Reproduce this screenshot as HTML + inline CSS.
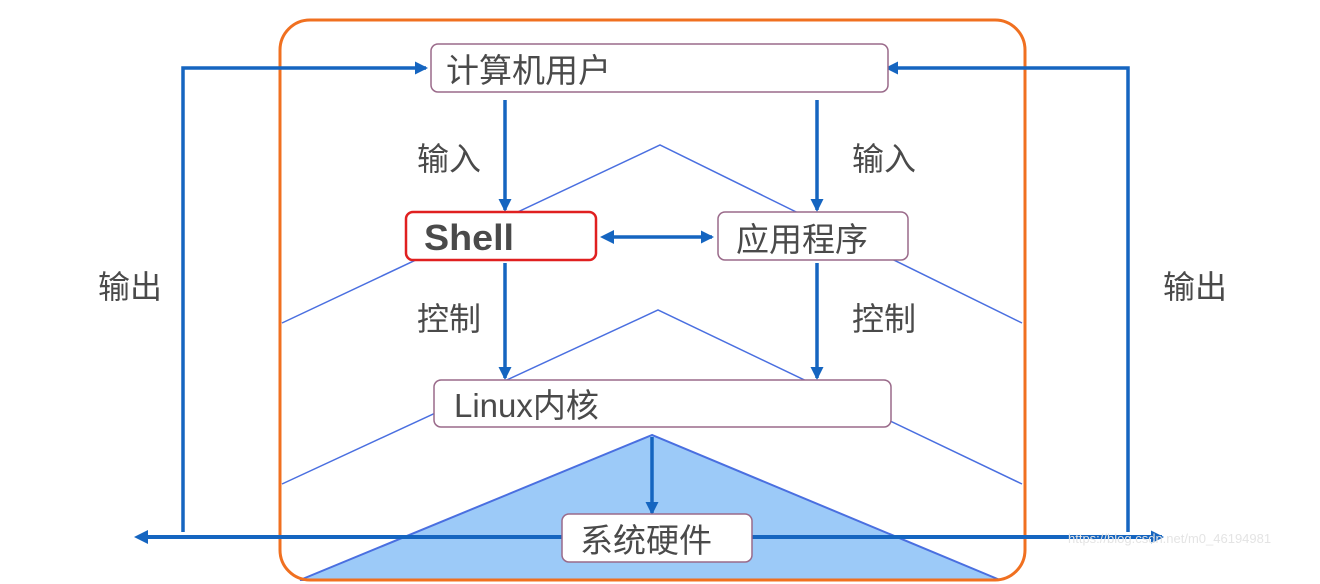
<!DOCTYPE html>
<html><head><meta charset="utf-8"><style>
html,body{margin:0;padding:0;background:#fff;}
svg{display:block;}
text{font-family:"Liberation Sans","Noto Sans CJK SC",sans-serif;fill:#4a4a4a;}
</style></head><body>
<svg width="1320" height="584" viewBox="0 0 1320 584" xmlns="http://www.w3.org/2000/svg">
<defs>
<marker id="ah" markerWidth="13" markerHeight="13" refX="11" refY="6.5" orient="auto" markerUnits="userSpaceOnUse">
<path d="M0,0 L13,6.5 L0,13 z" fill="#1565c0"/></marker>
<marker id="ahs" markerWidth="14" markerHeight="14" refX="2" refY="7" orient="auto-start-reverse" markerUnits="userSpaceOnUse">
<path d="M0,0 L14,7 L0,14 z" fill="#1565c0"/></marker>
</defs>
<polygon points="652,435 300,580 1000,580" fill="#9ccaf8" stroke="#4a6fe0" stroke-width="2"/>
<polyline points="282,323 660,145 1022,323" fill="none" stroke="#4a6fe0" stroke-width="1.5"/>
<polyline points="282,484 658,310 1022,484" fill="none" stroke="#4a6fe0" stroke-width="1.5"/>
<rect x="280" y="20" width="745" height="560" rx="30" fill="none" stroke="#f07020" stroke-width="3"/>
<polyline points="183,532 183,68 426,68" fill="none" stroke="#1565c0" stroke-width="3.5" marker-end="url(#ah)"/>
<polyline points="1128,532 1128,68 887,68" fill="none" stroke="#1565c0" stroke-width="3.5" marker-end="url(#ah)"/>
<line x1="146" y1="537" x2="1162" y2="537" stroke="#1565c0" stroke-width="4" marker-start="url(#ahs)" marker-end="url(#ah)"/>
<line x1="505" y1="100" x2="505" y2="210" stroke="#1565c0" stroke-width="3.5" marker-end="url(#ah)"/>
<line x1="817" y1="100" x2="817" y2="210" stroke="#1565c0" stroke-width="3.5" marker-end="url(#ah)"/>
<line x1="505" y1="263" x2="505" y2="378" stroke="#1565c0" stroke-width="3.5" marker-end="url(#ah)"/>
<line x1="817" y1="263" x2="817" y2="378" stroke="#1565c0" stroke-width="3.5" marker-end="url(#ah)"/>
<line x1="652" y1="437" x2="652" y2="513" stroke="#1565c0" stroke-width="3.5" marker-end="url(#ah)"/>
<line x1="612" y1="237" x2="712" y2="237" stroke="#1565c0" stroke-width="3.5" marker-start="url(#ahs)" marker-end="url(#ah)"/>
<rect x="431" y="44" width="457" height="48" rx="7" fill="#fff" stroke="#9a6a8a" stroke-width="1.5"/>
<rect x="406" y="212" width="190" height="48" rx="7" fill="#fff" stroke="#e02020" stroke-width="2.5"/>
<rect x="718" y="212" width="190" height="48" rx="7" fill="#fff" stroke="#9a6a8a" stroke-width="1.5"/>
<rect x="434" y="380" width="457" height="47" rx="7" fill="#fff" stroke="#9a6a8a" stroke-width="1.5"/>
<rect x="562" y="514" width="190" height="48" rx="7" fill="#fff" stroke="#9a6a8a" stroke-width="1.5"/>
<text x="446" y="82" font-size="33">计算机用户</text>
<text x="424" y="250" font-size="36" font-weight="bold" textLength="90" lengthAdjust="spacingAndGlyphs">Shell</text>
<text x="736" y="251" font-size="33">应用程序</text>
<text x="454" y="417" font-size="33">Linux内核</text>
<text x="580" y="552" font-size="33">系统硬件</text>
<text x="417" y="170" font-size="32">输入</text>
<text x="852" y="170" font-size="32">输入</text>
<text x="417" y="330" font-size="32">控制</text>
<text x="852" y="330" font-size="32">控制</text>
<text x="98" y="298" font-size="32">输出</text>
<text x="1163" y="298" font-size="32">输出</text>
<text x="1068" y="543" font-size="13" style="fill:#e4e4e4">https://blog.csdn.net/m0_46194981</text>
</svg>
</body></html>
